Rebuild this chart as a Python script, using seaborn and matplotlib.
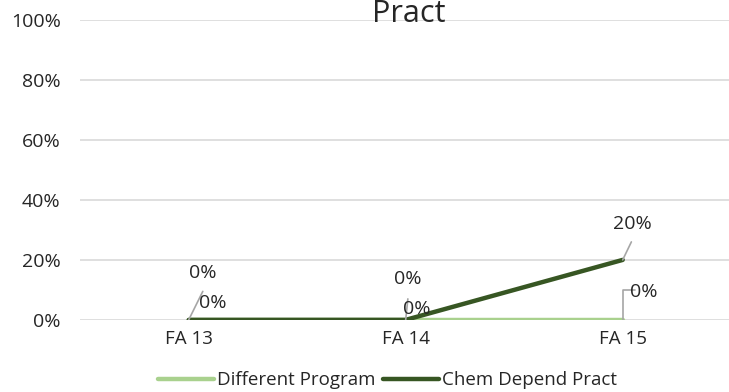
import numpy as np
import pandas as pd
import matplotlib.pyplot as plt
import seaborn as sns
from matplotlib.lines import Line2D

sns.set_theme(style="white")
plt.rcParams['font.family'] = ['Open Sans', 'DejaVu Sans']

terms = ['FA 13', 'FA 14', 'FA 15']
different_program = [0, 0, 0]
chem_depend_pract = [0, 0, 20]
yticks = [0, 20, 40, 60, 80, 100]

df = pd.DataFrame({
    'term': terms * 2,
    'value': different_program + chem_depend_pract,
    'series': ['Different Program'] * 3 + ['Chem Depend Pract'] * 3,
})

fig = plt.figure(figsize=(7.29, 3.92), dpi=100)
ax = fig.add_axes([0.11, 0.184, 0.893, 0.765])

palette = {'Different Program': '#a9d18e', 'Chem Depend Pract': '#375623'}
sns.lineplot(data=df, x='term', y='value', hue='series', palette=palette,
             linewidth=3.2, ax=ax, sort=False, legend=False)

ax.set_xlim(-0.5, 2.5)
ax.set_ylim(0, 100)
ax.set_yticks(yticks)
ax.set_yticklabels([f'{t}%' for t in yticks], fontsize=14, color='#262626')
ax.tick_params(axis='x', labelsize=13.5, labelcolor='#262626', length=0, pad=7)
ax.tick_params(axis='y', length=0, pad=14)
ax.set_xlabel('')
ax.set_ylabel('')
ax.grid(axis='y', color='#d9d9d9', linewidth=1.2)
for s in ax.spines.values():
    s.set_visible(False)
ax.set_axisbelow(True)

# data labels with leader lines
lc = '#a6a6a6'
lab = dict(fontsize=14, color='#262626', ha='center', va='center')
x = np.arange(3)
# Chem Depend Pract
ax.plot([x[0], x[0] + 0.065], [0, 9.5], color=lc, lw=1.2)
ax.text(x[0] + 0.065, 15.7, f'{chem_depend_pract[0]}%', **lab)
ax.plot([x[1], x[1] + 0.01], [0, 7], color=lc, lw=1.2)
ax.text(x[1] + 0.01, 13.7, f'{chem_depend_pract[1]}%', **lab)
ax.plot([x[2], x[2] + 0.04], [chem_depend_pract[2], chem_depend_pract[2] + 6], color=lc, lw=1.2)
ax.text(x[2] + 0.045, chem_depend_pract[2] + 12, f'{chem_depend_pract[2]}%', **lab)
# Different Program
ax.text(x[0] + 0.11, 5.7, f'{different_program[0]}%', **lab)
ax.text(x[1] + 0.05, 3.7, f'{different_program[1]}%', **lab)
ax.plot([x[2], x[2], x[2] + 0.055], [0, 10, 10], color=lc, lw=1.2)
ax.text(x[2] + 0.095, 9.3, f'{different_program[2]}%', **lab)

# title (first line cropped off the top)
fig.text(0.561, 0.925, 'Chem Depend\nPract', ha='center', va='bottom', fontsize=22,
         color='#262626', linespacing=1.5)

# legend
handles = [Line2D([], [], color=palette[k], lw=3.2) for k in palette]
fig.legend(handles, list(palette), loc='center', bbox_to_anchor=(0.531, 0.03),
           ncol=2, frameon=False, fontsize=13.5, handlelength=3.0,
           handletextpad=0.15, columnspacing=0.4, labelcolor='#262626')

fig.savefig('out.png', dpi=100)
